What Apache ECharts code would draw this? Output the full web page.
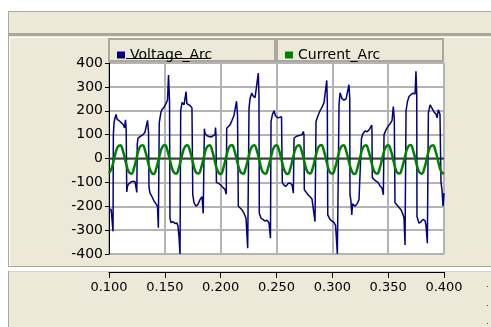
<!DOCTYPE html>
<html>
<head>
<meta charset="utf-8">
<script src="https://cdn.jsdelivr.net/npm/echarts@6/dist/echarts.min.js"></script>
<style>
html,body{margin:0;padding:0;background:#fff;}
#chart{width:491px;height:327px;}
</style>
</head>
<body>
<div id="chart"></div>
<script>
// ---- data ----
const seriesNames = ['Voltage_Arc', 'Current_Arc'];
const xTicks = [0.100, 0.150, 0.200, 0.250, 0.300, 0.350, 0.400];
const yTicks = [-400, -300, -200, -100, 0, 100, 200, 300, 400];

const voltageTime = [
0.1000,0.1009,0.1018,0.1022,0.1030,0.1036,
0.1039,0.1045,0.1054,0.1063,0.1072,0.1081,0.1099,0.1116,0.1130,0.1139,0.1148,0.1154,
0.1159,0.1166,0.1179,0.1197,0.1215,0.1233,0.1242,0.1249,
0.1253,0.1260,0.1273,0.1287,0.1305,0.1322,0.1336,0.1345,0.1354,
0.1358,0.1367,0.1385,0.1403,0.1421,0.1434,0.1442,
0.1450,0.1457,0.1466,0.1475,0.1493,0.1510,0.1524,0.1533,0.1542,
0.1546,0.1555,0.1573,0.1591,0.1609,0.1618,0.1627,0.1636,
0.1642,0.1654,0.1672,0.1685,0.1690,0.1697,0.1708,0.1725,0.1743,
0.1750,0.1761,0.1779,0.1797,0.1815,0.1833,0.1844,
0.1854,0.1860,0.1878,0.1896,0.1914,0.1931,0.1949,0.1954,0.1958,
0.1962,0.1967,0.1985,0.2003,0.2021,0.2039,0.2050,
0.2054,0.2066,0.2084,0.2102,0.2119,0.2133,0.2142,0.2151,
0.2158,0.2173,0.2191,0.2209,0.2227,0.2236,0.2242,
0.2254,0.2263,0.2278,0.2290,0.2308,0.2325,0.2337,0.2343,
0.2346,0.2361,0.2379,0.2397,0.2415,0.2433,0.2446,
0.2451,0.2464,0.2478,0.2491,0.2514,0.2531,0.2545,
0.2552,0.2567,0.2585,0.2603,0.2621,0.2639,0.2651,
0.2657,0.2675,0.2693,0.2711,0.2729,0.2740,0.2746,
0.2749,0.2764,0.2782,0.2800,0.2818,0.2832,0.2845,
0.2854,0.2872,0.2890,0.2908,0.2926,0.2939,0.2950,0.2955,
0.2959,0.2979,0.2997,0.3015,0.3029,0.3045,
0.3060,0.3069,0.3087,0.3105,0.3123,0.3140,0.3149,0.3156,
0.3158,0.3167,0.3174,0.3181,0.3203,0.3221,0.3239,0.3252,
0.3261,0.3275,0.3293,0.3311,0.3329,0.3346,0.3353,0.3355,
0.3358,0.3373,0.3391,0.3409,0.3427,0.3445,0.3457,
0.3463,0.3481,0.3499,0.3517,0.3535,0.3546,0.3555,
0.3561,0.3579,0.3597,0.3615,0.3633,0.3642,0.3651,
0.3660,0.3673,0.3687,0.3705,0.3723,0.3741,0.3749,0.3756,
0.3758,0.3776,0.3794,0.3812,0.3830,0.3839,0.3851,
0.3860,0.3875,0.3893,0.3911,0.3929,0.3938,0.3949,0.3964,
0.3973,0.3982,0.3991,0.4000
];
const voltageValue = [
-215,-210,-212,-228,-225,-305,
100,150,170,185,165,158,155,148,140,128,162,120,
-140,-115,-105,-98,-95,-97,-105,-142,
60,85,92,95,100,110,118,160,110,
-120,-145,-160,-178,-190,-200,-290,
150,170,195,205,215,230,245,350,240,
-250,-268,-265,-272,-270,-285,-330,-400,
200,235,225,230,280,230,225,222,212,
-150,-185,-200,-192,-172,-160,-230,
125,105,95,92,90,95,100,130,100,
-100,-95,-105,-112,-122,-130,-150,
127,135,141,160,180,185,240,180,
-200,-208,-215,-229,-250,-257,-376,
211,250,274,262,255,260,358,265,
-229,-250,-255,-262,-258,-270,-334,
155,185,200,178,170,165,175,
-100,-112,-117,-105,-103,-110,-145,
85,92,95,97,100,113,100,
-131,-140,-152,-160,-170,-175,-264,
155,180,200,215,235,240,327,240,
-236,-255,-262,-268,-280,-400,
225,275,250,245,250,255,309,250,
-150,-180,-236,-190,-200,-190,-172,-180,
85,105,115,112,120,128,140,115,
-80,-88,-95,-100,-115,-124,-152,
100,120,135,145,160,218,165,
-185,-195,-205,-215,-235,-250,-362,
200,239,260,268,274,270,365,270,
-243,-271,-265,-255,-260,-280,-355,
190,225,210,195,185,170,204,185,
-100,-130,-200,-145
];

const currentTime = [
0.1000,0.1025,0.1050,0.1075,0.1100,0.1125,0.1150,0.1175,
0.1200,0.1225,0.1250,0.1275,0.1300,0.1325,0.1350,0.1375,
0.1400,0.1425,0.1450,0.1475,0.1500,0.1525,0.1550,0.1575,
0.1600,0.1625,0.1650,0.1675,0.1700,0.1725,0.1750,0.1775,
0.1800,0.1825,0.1850,0.1875,0.1900,0.1925,0.1950,0.1975,
0.2000,0.2025,0.2050,0.2075,0.2100,0.2125,0.2150,0.2175,
0.2200,0.2225,0.2250,0.2275,0.2300,0.2325,0.2350,0.2375,
0.2400,0.2425,0.2450,0.2475,0.2500,0.2525,0.2550,0.2575,
0.2600,0.2625,0.2650,0.2675,0.2700,0.2725,0.2750,0.2775,
0.2800,0.2825,0.2850,0.2875,0.2900,0.2925,0.2950,0.2975,
0.3000,0.3025,0.3050,0.3075,0.3100,0.3125,0.3150,0.3175,
0.3200,0.3225,0.3250,0.3275,0.3300,0.3325,0.3350,0.3375,
0.3400,0.3425,0.3450,0.3475,0.3500,0.3525,0.3550,0.3575,
0.3600,0.3625,0.3650,0.3675,0.3700,0.3725,0.3750,0.3775,
0.3800,0.3825,0.3850,0.3875,0.3900,0.3925,0.3950,0.3975,
0.4000
];
const currentValue = [
-62,-39,7,46,56,31,-15,-54,
-64,-38,8,47,55,30,-16,-55,
-65,-39,7,46,57,31,-15,-54,
-64,-40,6,45,56,32,-14,-55,
-63,-39,7,46,56,31,-15,-54,
-65,-38,8,47,57,30,-16,-54,
-64,-39,7,46,56,31,-15,-55,
-64,-39,6,45,55,31,-15,-54,
-65,-40,7,46,56,32,-14,-54,
-63,-39,8,47,57,31,-15,-55,
-64,-38,7,46,56,30,-16,-54,
-65,-39,7,46,55,31,-15,-54,
-64,-40,6,45,56,32,-14,-55,
-63,-39,7,46,57,31,-15,-54,
-64,-39,8,47,56,30,-16,-55,
-64
];
const zeroLine = [[0.1, 0], [0.4, 0]];

// ---- build ----
const voltageData = voltageTime.map((t, i) => [t, voltageValue[i]]);
const currentData = currentTime.map((t, i) => [t, currentValue[i]]);

const BEIGE = '#ECE9D8', GREY = '#ACA899';
const FONT = 'DejaVu Sans';

const chart = echarts.init(document.getElementById('chart'), null, {renderer: 'canvas'});
chart.setOption({
  animation: false,
  backgroundColor: '#ffffff',
  graphic: [
    {type: 'rect', z: -10, shape: {x: 8, y: 11, width: 483, height: 22}, style: {fill: BEIGE}},
    {type: 'line', z: -9, shape: {x1: 8, y1: 11.5, x2: 491, y2: 11.5}, style: {stroke: GREY, lineWidth: 1}},
    {type: 'rect', z: -9, shape: {x: 8, y: 33, width: 483, height: 3}, style: {fill: GREY}},
    {type: 'rect', z: -10, shape: {x: 8, y: 36, width: 483, height: 231}, style: {fill: BEIGE}},
    {type: 'line', z: -9, shape: {x1: 9, y1: 37.5, x2: 491, y2: 37.5}, style: {stroke: '#ffffff', lineWidth: 1}},
    {type: 'line', z: -9, shape: {x1: 9.5, y1: 37, x2: 9.5, y2: 266}, style: {stroke: '#ffffff', lineWidth: 1}},
    {type: 'line', z: -9, shape: {x1: 8, y1: 266.5, x2: 491, y2: 266.5}, style: {stroke: GREY, lineWidth: 1}},
    {type: 'rect', z: -10, shape: {x: 8, y: 271, width: 483, height: 56}, style: {fill: BEIGE}},
    {type: 'line', z: -9, shape: {x1: 8, y1: 271.5, x2: 491, y2: 271.5}, style: {stroke: '#D8D4C4', lineWidth: 1}},
    {type: 'line', z: -8, shape: {x1: 8.5, y1: 11, x2: 8.5, y2: 267}, style: {stroke: GREY, lineWidth: 1}},
    {type: 'line', z: -8, shape: {x1: 8.5, y1: 271, x2: 8.5, y2: 327}, style: {stroke: GREY, lineWidth: 1}},
    {type: 'rect', z: -5, shape: {x: 109, y: 39, width: 166, height: 22}, style: {fill: BEIGE, stroke: GREY, lineWidth: 2}},
    {type: 'rect', z: -5, shape: {x: 277, y: 39, width: 166, height: 22}, style: {fill: BEIGE, stroke: GREY, lineWidth: 2}},
    {type: 'line', z: 10, shape: {x1: 126, y1: 58.5, x2: 209, y2: 58.5}, style: {stroke: '#000', lineWidth: 1}},
    {type: 'rect', z: 10, shape: {x: 487, y: 286, width: 1, height: 1}, style: {fill: '#444'}},
    {type: 'rect', z: 10, shape: {x: 487, y: 305, width: 1, height: 1}, style: {fill: '#444'}},
    {type: 'rect', z: 10, shape: {x: 487, y: 323, width: 1, height: 1}, style: {fill: '#444'}}
  ],
  legend: [
    {data: [seriesNames[0]], left: 112, top: 43, icon: 'rect', itemWidth: 8, itemHeight: 7,
     textStyle: {fontSize: 14, fontFamily: FONT, color: '#000'}, selectedMode: false},
    {data: [seriesNames[1]], left: 280, top: 43, icon: 'rect', itemWidth: 8, itemHeight: 7,
     textStyle: {fontSize: 14, fontFamily: FONT, color: '#000'}, selectedMode: false}
  ],
  grid: {left: 109, top: 63, width: 335, height: 191, show: true, backgroundColor: '#ffffff',
         borderColor: '#A8A8A8', borderWidth: 1, containLabel: false},
  xAxis: {
    type: 'value', min: xTicks[0], max: xTicks[xTicks.length - 1], interval: 0.05, offset: 18,
    axisLine: {show: true, onZero: false, lineStyle: {color: '#000', width: 1}},
    axisTick: {show: true, length: 6, lineStyle: {color: '#000'}},
    axisLabel: {fontSize: 13, fontFamily: FONT, color: '#000', margin: 9,
                formatter: v => v.toFixed(3)},
    splitLine: {show: true, lineStyle: {color: '#B4B4B4', width: 2}}
  },
  yAxis: {
    type: 'value', min: yTicks[0], max: yTicks[yTicks.length - 1], interval: 100,
    axisLine: {show: true, onZero: false, lineStyle: {color: '#000', width: 1}},
    axisTick: {show: true, length: 4, lineStyle: {color: '#000'}},
    axisLabel: {fontSize: 14, fontFamily: FONT, color: '#000', margin: 6},
    splitLine: {show: true, lineStyle: {color: '#B4B4B4', width: 2}}
  },
  series: [
    {name: 'zero', type: 'line', data: zeroLine, showSymbol: false, silent: true, z: 1,
     lineStyle: {color: '#3C3C3C', width: 2}},
    {name: seriesNames[0], type: 'line', data: voltageData, showSymbol: false, z: 3,
     color: '#000080', lineStyle: {color: '#000080', width: 1.5}},
    {name: seriesNames[1], type: 'line', data: currentData, showSymbol: false, smooth: true, z: 4,
     color: '#008000', lineStyle: {color: '#008000', width: 2.5}}
  ]
});
</script>
</body>
</html>
